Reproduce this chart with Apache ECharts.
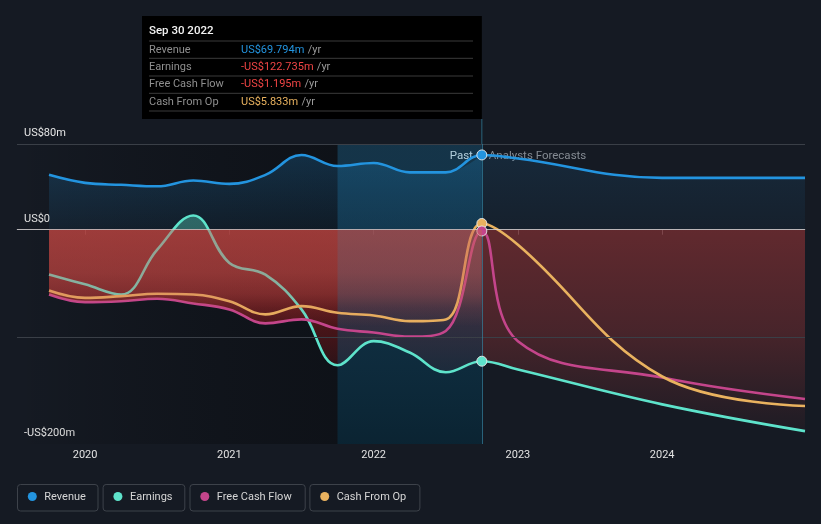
<!DOCTYPE html>
<html><head><meta charset="utf-8">
<script src="https://cdn.jsdelivr.net/npm/echarts@6/dist/echarts.min.js"></script>
<style>html,body{margin:0;padding:0;background:#151a23;}#c{width:821px;height:524px;}</style>
</head><body><div id="c"></div>
<script>
// ---- data ----
const pastX = [2019.75, 2020.0, 2020.25, 2020.5, 2020.75, 2021.0, 2021.25, 2021.5, 2021.75, 2022.0, 2022.25, 2022.5, 2022.75];
const revenuePast  = [51.2, 43.7, 41.9, 40.5, 45.9, 42.8, 51.2, 69.8, 59.5, 62.3, 53.5, 53.5, 69.794];
const earningsPast = [-41.9, -51.0, -60.5, -18.6, 13.3, -31.0, -42.0, -74.4, -126.5, -104.0, -114.6, -133.0, -122.735];
const fcfPast      = [-60.5, -67.6, -66.7, -64.5, -68.8, -74.4, -87.4, -83.7, -92.4, -96.0, -99.8, -94.6, -1.195];
const cfoPast      = [-56.7, -63.6, -62.0, -59.8, -60.5, -66.7, -79.0, -71.3, -77.5, -80.0, -85.3, -83.7, 5.833];
const fcstX = [2022.75, 2023.0, 2024.0, 2024.99];
const revenueFcst  = [69.794, 66.5, 48.4, 48.4];
const earningsFcst = [-122.735, -130.5, -163.0, -188.0];
const fcfFcst      = [-1.195, -104.0, -138.0, -158.0];
const cfoFcst      = [5.833, -14.0, -137.0, -164.5];
const yearTicks = [2020, 2021, 2022, 2023, 2024];
const yTickValues = [-200, 0, 80];
const yTickLabels = ['-US$200m', 'US$0', 'US$80m'];
const gridValues = [80, -100];
const seriesNames = ['Revenue', 'Earnings', 'Free Cash Flow', 'Cash From Op'];
const seriesColors = ['#2394df', '#5ee3cb', '#c4458b', '#e9b25f'];
const tooltipDate = 'Sep 30 2022';
const pastStart = 2021.75, splitX = 2022.75, axisMin = 2019.528, axisMax = 2024.99, yMin = -200, yMax = 80;

// ---- helpers ----
const pairs = (xs, ys) => xs.map((x, i) => [x, ys[i]]);
const allX = pastX.concat(fcstX.slice(1));
const revenue = revenuePast.concat(revenueFcst.slice(1));
const earnings = earningsPast.concat(earningsFcst.slice(1));
const fcf = fcfPast.concat(fcfFcst.slice(1));
const cfo = cfoPast.concat(cfoFcst.slice(1));
const negPast = pastX.map((x, i) => [x, Math.min(0, earningsPast[i], fcfPast[i], cfoPast[i])]);
const negFcst = fcstX.map((x, i) => [x, Math.min(0, earningsFcst[i], fcfFcst[i], cfoFcst[i])]);
const fmt = v => (v < 0 ? '-US$' : 'US$') + Math.abs(v).toFixed(3) + 'm';
const FONT = 'Roboto, "Noto Sans", sans-serif';
const lin = (stops, horiz) => new echarts.graphic.LinearGradient(0, 0, horiz ? 1 : 0, horiz ? 0 : 1, stops.map(s => ({offset: s[0], color: s[1]})));
const rgba = (c, a) => 'rgba(' + c + ',' + a + ')';
const RED = '200,25,25', PINK = '200,95,88', REDF = '190,60,60';
const blue = a => 'rgba(35,148,223,' + a + ')';

const hidden = {symbol: 'none', silent: true, lineStyle: {width: 0, opacity: 0}, tooltip: {show: false}};
const lineBase = {type: 'line', smooth: 0.4, symbol: 'none', z: 4};

// layout of the plot
const G = {left: 17, right: 16, top: 144, bottom: 80, h: 524 - 144 - 80};
const zeroFromBottom = G.bottom + G.h * (0 - yMin) / (yMax - yMin);

const chart = echarts.init(document.getElementById('c'));
const option = {
  backgroundColor: '#151a23',
  animation: false,
  grid: [
    {left: G.left, right: G.right, top: G.top, bottom: G.bottom},
    {left: G.left, right: G.right, top: G.top, bottom: zeroFromBottom}
  ],
  xAxis: [{
    type: 'value', min: axisMin, max: axisMax, splitLine: {show: false},
    axisLine: {lineStyle: {color: '#4b5059', width: 1}},
    axisTick: {customValues: yearTicks, length: 5, lineStyle: {color: '#4b5059'}},
    axisLabel: {customValues: yearTicks, formatter: v => String(Math.round(v)), color: '#e2e2e2', fontSize: 11, fontFamily: FONT, margin: 6}
  }, {type: 'value', gridIndex: 1, min: axisMin, max: axisMax, show: false}],
  yAxis: [{
    type: 'value', min: yMin, max: yMax, splitLine: {show: false}, axisLine: {show: false}, axisTick: {show: false},
    axisLabel: {customValues: yTickValues, inside: true, margin: 7, verticalAlign: 'bottom', padding: [0, 0, 5, 0],
      color: '#e6e6e6', fontSize: 11, fontFamily: FONT,
      formatter: v => yTickLabels[yTickValues.indexOf(Math.round(v))]}
  }, {type: 'value', gridIndex: 1, min: 0, max: yMax, show: false}],
  series: [
    Object.assign({type: 'line', z: 1, data: [[axisMin, yMax], [pastStart, yMax]],
      areaStyle: {origin: 'start', opacity: 1, color: lin([[0, 'rgba(0,0,0,0)'], [1, 'rgba(6,8,11,0.45)']], true)},
      markLine: {silent: true, symbol: 'none', label: {show: false},
        data: gridValues.map(v => ({yAxis: v, lineStyle: {color: '#3a3f47', width: 1, type: 'solid'}}))}}, hidden),
    Object.assign({type: 'line', z: 2, smooth: 0.4, data: pairs(pastX, revenuePast),
      areaStyle: {opacity: 1, color: lin([[0, blue(0.22)], [1, blue(0.07)]])}}, hidden),
    Object.assign({type: 'line', z: 2, smooth: 0.4, data: pairs(fcstX, revenueFcst),
      areaStyle: {opacity: 1, color: lin([[0, blue(0.12)], [1, blue(0.05)]])}}, hidden),
    // positive part of earnings, clipped by a grid whose bottom is the zero line
    Object.assign({type: 'line', z: 2, smooth: 0.4, xAxisIndex: 1, yAxisIndex: 1, clip: true, data: pairs(pastX, earningsPast),
      areaStyle: {origin: 'start', opacity: 1, color: 'rgba(94,227,203,0.36)'}}, hidden),
    Object.assign({type: 'line', z: 2, smooth: 0.4, data: negPast,
      areaStyle: {opacity: 1, color: lin([[0, rgba(RED, 0.52)], [0.45, rgba(RED, 0.42)], [0.75, rgba(RED, 0.28)], [1, rgba(RED, 0.14)]])}}, hidden),
    Object.assign({type: 'line', z: 2, smooth: 0.4, data: negFcst,
      areaStyle: {opacity: 1, color: lin([[0, rgba(REDF, 0.45)], [0.5, rgba(REDF, 0.3)], [1, rgba(REDF, 0.05)]])}}, hidden),
    Object.assign({type: 'line', z: 3, data: [[pastStart, yMax], [splitX, yMax]],
      areaStyle: {origin: 'start', opacity: 1, color: lin([[0, 'rgba(20,120,170,0.28)'], [1, 'rgba(0,45,65,0.5)']])},
      markLine: {silent: true, symbol: 'none', label: {show: false},
        data: [{xAxis: splitX, lineStyle: {color: 'rgba(50,130,160,0.7)', width: 1, type: 'solid'}}]}}, hidden),
    Object.assign({}, lineBase, {name: seriesNames[0], data: pairs(allX, revenue), lineStyle: {width: 2.6, color: seriesColors[0]}, itemStyle: {color: seriesColors[0]}}),
    Object.assign({}, lineBase, {name: seriesNames[1], data: pairs(allX, earnings), lineStyle: {width: 2.6, color: seriesColors[1]}, itemStyle: {color: seriesColors[1]}}),
    Object.assign({}, lineBase, {name: seriesNames[2], data: pairs(allX, fcf), lineStyle: {width: 2.6, color: seriesColors[2]}, itemStyle: {color: seriesColors[2]}}),
    Object.assign({}, lineBase, {name: seriesNames[3], data: pairs(allX, cfo), lineStyle: {width: 2.6, color: seriesColors[3]}, itemStyle: {color: seriesColors[3]}}),
    Object.assign({type: 'line', z: 5, smooth: 0.4, data: negPast,
      areaStyle: {opacity: 1, color: lin([[0, rgba(PINK, 0.5)], [0.3, rgba(PINK, 0.44)], [0.45, rgba(PINK, 0.3)], [0.55, rgba(PINK, 0.12)], [0.68, rgba(PINK, 0)], [1, rgba(PINK, 0)]])},
      markLine: {silent: true, symbol: 'none', label: {show: false},
        data: [{yAxis: 0, lineStyle: {color: 'rgba(220,215,215,0.75)', width: 1.2, type: 'solid'}}]},
      markPoint: {silent: true, symbol: 'circle', symbolSize: 10, label: {show: false},
        data: [[revenue, 0], [cfo, 3], [fcf, 2], [earnings, 1]].map(p => ({
          coord: [splitX, p[0][pastX.length - 1]],
          itemStyle: {color: seriesColors[p[1]], borderColor: 'rgba(235,235,235,0.9)', borderWidth: 1}}))}}, hidden)
  ]
};
chart.setOption(option);

// ---- overlays: tooltip box, past/forecast labels, legend ----
const px = chart.convertToPixel({gridIndex: 0}, [splitX, yMax]);
const lastI = pastX.length - 1;
const rowVals = [revenuePast[lastI], earningsPast[lastI], fcfPast[lastI], cfoPast[lastI]];
const valColor = (v, k) => k === 0 ? '#2394df' : (v < 0 ? '#f04545' : '#e9b25f');
const tipLeft = 142, tipTop = 16, tipRight = px[0];
const F11 = '11px ' + FONT;
const tipChildren = [
  {type: 'rect', shape: {x: tipLeft, y: tipTop, width: tipRight - tipLeft, height: 103}, style: {fill: '#000'}},
  {type: 'text', x: 149, y: 31.5, style: {text: tooltipDate, fill: '#f2f2f2', font: '500 11.5px ' + FONT, verticalAlign: 'middle'}}
];
[41, 58.3, 76, 93.3, 111].forEach(y => tipChildren.push({type: 'line', shape: {x1: 149, y1: y, x2: 473, y2: y}, style: {stroke: '#3b3b3b', lineWidth: 1}}));
seriesNames.forEach((n, k) => {
  const y = 50 + k * 17.3;
  tipChildren.push({type: 'text', x: 149, y: y, style: {text: n, fill: '#8f8f8f', font: F11, verticalAlign: 'middle'}});
  tipChildren.push({type: 'text', x: 241, y: y, style: {
    rich: {v: {fill: valColor(rowVals[k], k), font: F11}, u: {fill: '#9a9a9a', font: F11}},
    text: '{v|' + fmt(rowVals[k]) + '} {u|/yr}', verticalAlign: 'middle'}});
});
const legendBoxes = [[17, 80.5], [102.6, 81.7], [189.5, 115.2], [309.4, 110]];
const legendChildren = [];
seriesNames.forEach((n, k) => {
  const b = legendBoxes[k];
  legendChildren.push({type: 'rect', shape: {x: b[0] + 0.5, y: 484.5, width: b[1], height: 26.5, r: 3}, style: {fill: 'none', stroke: '#3d424a', lineWidth: 1}});
  legendChildren.push({type: 'circle', shape: {cx: b[0] + 15.3, cy: 496.5, r: 4.5}, style: {fill: seriesColors[k]}});
  legendChildren.push({type: 'text', x: b[0] + 27.3, y: 497, style: {text: n, fill: '#d6d6d6', font: F11, verticalAlign: 'middle'}});
});
chart.setOption({graphic: [
  {type: 'group', silent: true, children: tipChildren},
  {type: 'line', silent: true, shape: {x1: px[0], y1: tipTop + 103, x2: px[0], y2: px[1]}, style: {stroke: 'rgba(50,130,160,0.7)', lineWidth: 1}},
  {type: 'text', silent: true, x: px[0] - 9, y: px[1] + 12, style: {text: 'Past', fill: '#f0f0f0', font: '11.5px ' + FONT, align: 'right', verticalAlign: 'middle'}},
  {type: 'text', silent: true, x: px[0] + 7, y: px[1] + 12, style: {text: 'Analysts Forecasts', fill: '#858b93', font: '11.5px ' + FONT, align: 'left', verticalAlign: 'middle'}},
  {type: 'group', silent: true, children: legendChildren}
]});
</script></body></html>
